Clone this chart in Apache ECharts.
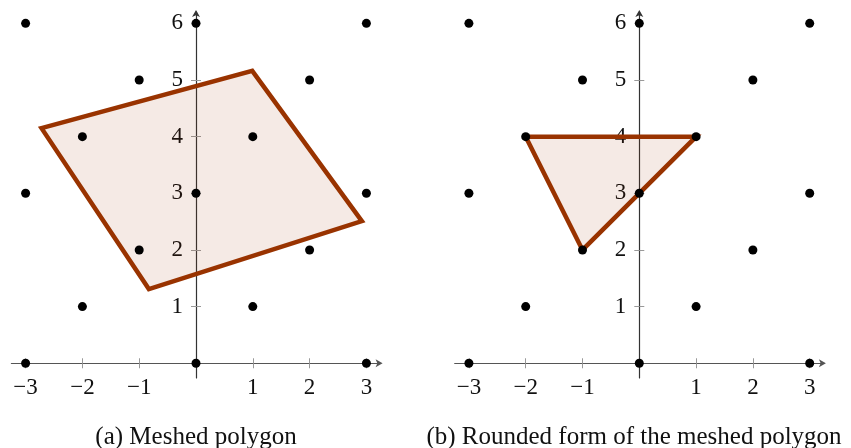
<!DOCTYPE html>
<html>
<head>
<meta charset="utf-8">
<script src="https://cdn.jsdelivr.net/npm/echarts@6/dist/echarts.min.js"></script>
<style>html,body{margin:0;padding:0;background:#fff}#c{width:851px;height:448px}</style>
</head>
<body>
<div id="c"></div>
<script>
// Lattice points (same in both panels)
const latticePoints = [[-3,6],[0,6],[3,6],[-1,5],[2,5],[-2,4],[1,4],[-3,3],[0,3],[3,3],[-1,2],[2,2],[-2,1],[1,1],[-3,0],[0,0],[3,0]];
// (a) meshed polygon vertices
const meshedPolygon = [[-2.72,4.15],[0.99,5.16],[2.92,2.51],[-0.83,1.31]];
// (b) rounded polygon vertices
const roundedPolygon = [[-2,4],[1,4],[-1,2]];
const xTickLabels = [-3,-2,-1,1,2,3];
const yTickLabels = [1,2,3,4,5,6];
const yTickMarks = [1,2,3,4,5];
const captions = ['(a) Meshed polygon','(b) Rounded form of the meshed polygon'];

const FONT = 'Liberation Serif';
const XMIN = -3.25, XMAX = 3.25, YMIN = -0.26, YMAX = 6.2;
const GW = 369.2, GH = 366;
const grids = [
  {left: 11.4, width: GW, top: 12, height: GH, outerBoundsMode: 'none', containLabel: false},
  {left: 454.7, width: GW, top: 12, height: GH, outerBoundsMode: 'none', containLabel: false}
];
// offsets that bring the axes onto the zero lines
const xOff = -(0 - YMIN) / (YMAX - YMIN) * GH;
const yOff = -(0 - XMIN) / (XMAX - XMIN) * GW;

const xAxes = [], yAxes = [];
grids.forEach((g, i) => {
  xAxes.push({
    type: 'value', gridIndex: i, min: XMIN, max: XMAX, position: 'bottom', offset: xOff,
    axisLine: {show: true, onZero: false, symbol: ['none','arrow'], symbolSize: [6,7], symbolOffset: [0,2],
      lineStyle: {color: '#555', width: 1.2}},
    axisTick: {show: true, length: 5, customValues: xTickLabels, lineStyle: {color: '#999', width: 1}},
    axisLabel: {show: true, customValues: xTickLabels, margin: 13, color: '#111', fontFamily: FONT, fontSize: 23,
      formatter: v => (v < 0 ? '\u2212' + Math.abs(v) : String(v))},
    splitLine: {show: false}
  });
  xAxes.push({
    type: 'value', gridIndex: i, min: XMIN, max: XMAX, position: 'bottom', offset: xOff,
    axisLine: {show: false, onZero: false},
    axisTick: {show: true, inside: true, length: 5, customValues: xTickLabels, lineStyle: {color: '#999', width: 1}},
    axisLabel: {show: false}, splitLine: {show: false}
  });
  yAxes.push({
    type: 'value', gridIndex: i, min: YMIN, max: YMAX, position: 'left', offset: yOff,
    axisLine: {show: true, onZero: false, symbol: ['none','arrow'], symbolSize: [6,7], symbolOffset: [0,2],
      lineStyle: {color: '#333', width: 1.2}},
    axisTick: {show: true, length: 5, customValues: yTickMarks, lineStyle: {color: '#999', width: 1}},
    axisLabel: {show: true, customValues: yTickLabels, margin: 13, color: '#111', fontFamily: FONT, fontSize: 23},
    splitLine: {show: false}
  });
  yAxes.push({
    type: 'value', gridIndex: i, min: YMIN, max: YMAX, position: 'left', offset: yOff,
    axisLine: {show: false, onZero: false},
    axisTick: {show: true, inside: true, length: 5, customValues: yTickMarks, lineStyle: {color: '#999', width: 1}},
    axisLabel: {show: false}, splitLine: {show: false}
  });
});

function polygonSeries(pts, i) {
  return {
    type: 'custom', xAxisIndex: i*2, yAxisIndex: i*2, z: 3,
    data: pts,
    renderItem: function (params, api) {
      if (params.dataIndex !== 0) return null;
      const coords = pts.map(p => api.coord(p));
      return {
        type: 'polygon',
        shape: {points: coords},
        style: {fill: 'rgba(153,51,0,0.1)', stroke: '#993300', lineWidth: 4.5, lineJoin: 'miter'}
      };
    }
  };
}
function dotSeries(i) {
  return {
    type: 'scatter', xAxisIndex: i*2, yAxisIndex: i*2, z: 5,
    data: latticePoints, symbol: 'circle', symbolSize: 9,
    itemStyle: {color: '#000', opacity: 1}, silent: true
  };
}

const chart = echarts.init(document.getElementById('c'), null, {renderer: 'canvas'});
chart.setOption({
  animation: false,
  backgroundColor: '#fff',
  title: [
    {text: captions[0], left: 191, top: 420, textAlign: 'center',
      textStyle: {fontFamily: FONT, fontWeight: 'normal', fontSize: 25, color: '#111'}},
    {text: captions[1], left: 629, top: 420, textAlign: 'center',
      textStyle: {fontFamily: FONT, fontWeight: 'normal', fontSize: 25, color: '#111'}}
  ],
  grid: grids,
  xAxis: xAxes,
  yAxis: yAxes,
  series: [polygonSeries(meshedPolygon, 0), dotSeries(0), polygonSeries(roundedPolygon, 1), dotSeries(1)]
});
</script>
</body>
</html>
